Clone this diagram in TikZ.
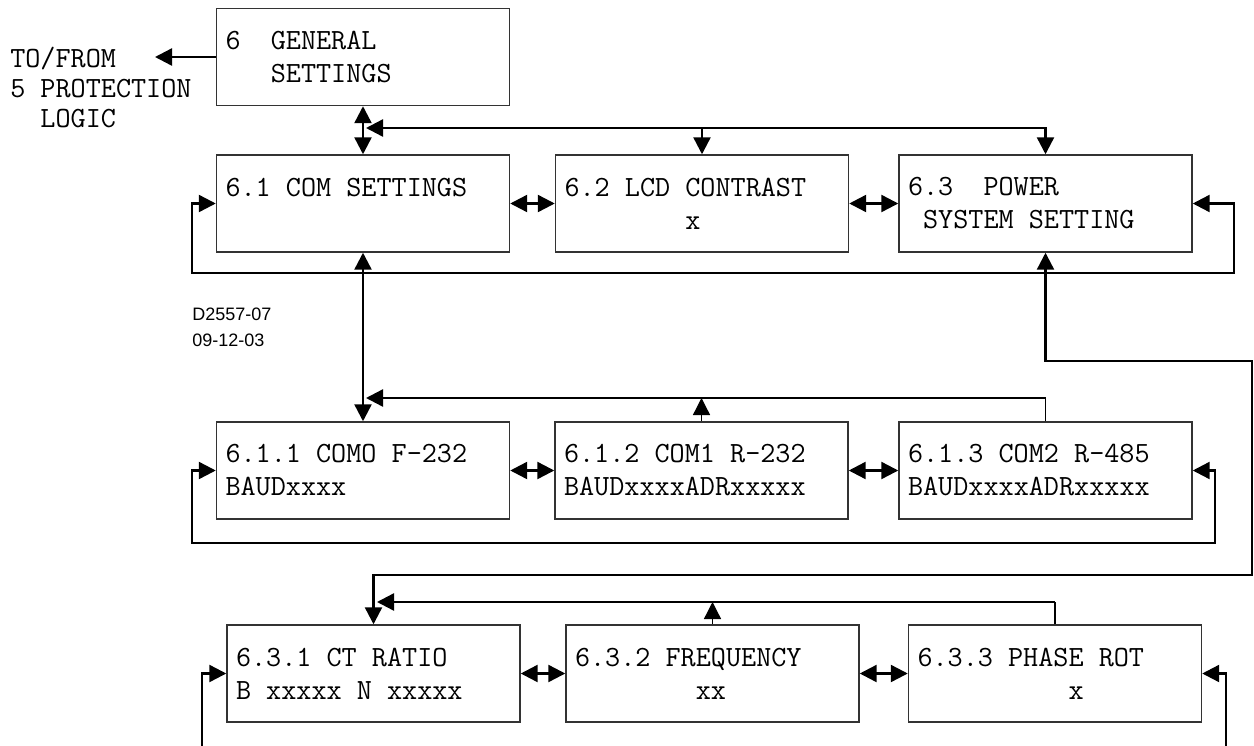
\documentclass[tikz,border=0pt]{standalone}
\usepackage{fontspec}
\newfontfamily\dwgfont{Liberation Sans}
\usetikzlibrary{arrows.meta}

% one fixed-pitch blank of the panel font
\newcommand\gap{\hphantom{0}}

\tikzset{
  menu/.style={draw=black!80, line width=1.1pt, rectangle, minimum height=72.75pt,
    text width=206.25pt, inner xsep=6.75pt, inner ysep=0pt, align=left,
    font=\fontsize{22}{24.75}\selectfont\ttfamily},
  txt/.style={inner sep=0pt, align=left, font=\fontsize{22}{22.5}\selectfont\ttfamily},
  dwg/.style={inner sep=0pt, align=left, font=\fontsize{13.5}{19.5}\selectfont\dwgfont},
  conn/.style={line width=1.8pt},
  drop/.style={line width=1pt},
  >={Triangle[length=12.75pt,width=12.75pt]}
}

\begin{document}
\begin{tikzpicture}[x=0.75pt,y=0.75pt,yscale=-1,xscale=1]
\useasboundingbox (0,0) rectangle (1254,746);

%Shape: Rectangle
\node[menu] (g6) at (363,57) {6\gap\gap GENERAL\\\gap\gap\gap SETTINGS};
%Shape: Rectangle
\node[menu] (c61) at (363,203.5) {6.1\gap COM\gap SETTINGS\\\mbox{}};
%Shape: Rectangle
\node[menu] (c62) at (702,203.5) {6.2\gap LCD\gap CONTRAST\\\gap\gap\gap\gap\gap\gap\gap\gap x};
%Shape: Rectangle
\node[menu] (c63) at (1045.5,203.5) {6.3\gap\gap POWER\\\gap SYSTEM\gap SETTING};
%Shape: Rectangle
\node[menu] (c611) at (363,470.5) {6.1.1\gap COMO\gap F-232\\BAUDxxxx};
%Shape: Rectangle
\node[menu] (c612) at (701.5,470.5) {6.1.2\gap COM1\gap R-232\\BAUDxxxxADRxxxxx};
%Shape: Rectangle
\node[menu] (c613) at (1045.5,470.5) {6.1.3\gap COM2\gap R-485\\BAUDxxxxADRxxxxx};
%Shape: Rectangle
\node[menu] (c631) at (373.5,673.5) {6.3.1\gap CT\gap RATIO\\B\gap xxxxx\gap N\gap xxxxx};
%Shape: Rectangle
\node[menu] (c632) at (712.5,673.5) {6.3.2\gap FREQUENCY\\\gap\gap\gap\gap\gap\gap\gap\gap xx};
%Shape: Rectangle
\node[menu] (c633) at (1055,673.5) {6.3.3\gap PHASE\gap ROT\\\gap\gap\gap\gap\gap\gap\gap\gap\gap\gap x};

% Text Node
\node[txt,anchor=west] (tofromtxt) at (10,87) {TO/FROM\\5\gap PROTECTION\\\gap\gap LOGIC};
% Text Node
\node[dwg,anchor=west] (dwgno) at (192,327) {D2557-07\\09-12-03};

\coordinate (tofrom) at (155,57);
\coordinate (bus1) at (366,128);
\coordinate (loop1l) at (192,273);
\coordinate (loop1r) at (1234,273);
\coordinate (bus2) at (366,398);
\coordinate (loop2l) at (192,543);
\coordinate (loop2r) at (1215,543);
\coordinate (route1) at (1252,361);
\coordinate (route2) at (1252,575);
\coordinate (bus3) at (377,602);
\coordinate (loop3l) at (202,746);
\coordinate (loop3r) at (1226,746);

%Straight Lines
\draw[conn,->] (g6.west) -- (tofrom);
\draw[conn,<->] (g6) -- (c61);
\draw[conn,<->] (bus1) -| (c63.north);
\draw[conn,->] (c62.north |- bus1) -- (c62.north);
\draw[conn,<->] (c61) -- (c62);
\draw[conn,<->] (c62) -- (c63);
\draw[conn,<->] (c61.west) -| (loop1l) -- (loop1r) |- (c63.east);
\draw[conn,<->] (c61) -- (c611);

%Straight Lines
\draw[drop] (c613.north) -- (c613.north |- bus2);
\draw[conn,->] (c613.north |- bus2) -- (bus2);
\draw[drop,->] (c612.north) -- (c612.north |- bus2);
\draw[conn,<->] (c611) -- (c612);
\draw[conn,<->] (c612) -- (c613);
\draw[conn,<->] (c611.west) -| (loop2l) -- (loop2r) |- (c613.east);

%Straight Lines
\draw[conn,<->] (c63.south) |- (route1) -- (route2) -| (c631.north);

%Straight Lines
\draw[drop] (c633.north) -- (c633.north |- bus3);
\draw[conn,->] (c633.north |- bus3) -- (bus3);
\draw[drop,->] (c632.north) -- (c632.north |- bus3);
\draw[conn,<->] (c631) -- (c632);
\draw[conn,<->] (c632) -- (c633);
\draw[conn,->] (loop3l) |- (c631.west);
\draw[conn,->] (loop3r) |- (c633.east);
\end{tikzpicture}
\end{document}
